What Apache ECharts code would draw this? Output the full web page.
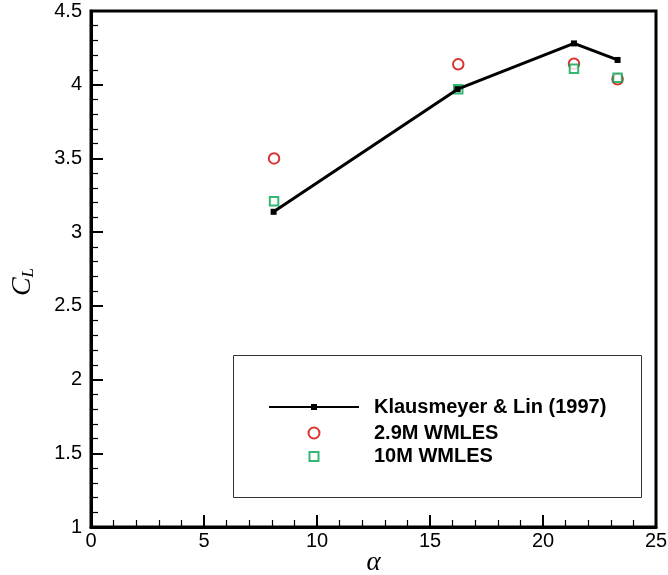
<!DOCTYPE html>
<html>
<head>
<meta charset="utf-8">
<script src="https://cdn.jsdelivr.net/npm/echarts@6/dist/echarts.min.js"></script>
<style>html,body{margin:0;padding:0;background:#fff}#c{width:668px;height:575px}</style>
</head>
<body>
<div id="c"></div>
<script>
const expAlpha = [8.08, 16.22, 21.37, 23.3];
const expCL = [3.138, 3.97, 4.28, 4.168];
const les29Alpha = [8.1, 16.25, 21.37, 23.3];
const les29CL = [3.50, 4.138, 4.143, 4.037];
const les10Alpha = [8.1, 16.25, 21.37, 23.3];
const les10CL = [3.209, 3.97, 4.109, 4.048];
const seriesNames = ['Klausmeyer & Lin (1997)', '2.9M WMLES', '10M WMLES'];

const zip = (a, b) => a.map((v, i) => [v, b[i]]);
const chart = echarts.init(document.getElementById('c'), null, {renderer: 'canvas'});
const labelFont = {fontFamily: 'Liberation Sans', fontSize: 20, color: '#000'};
// legend: icon centre x = 313, text start x = 373
function mkLegend(name, top, w, h, bw) {
  const left = 313 - w / 2;
  const pad = 373 - (left + w + 5);
  const lg = {
    orient: 'vertical', left: left, top: top, padding: 0,
    itemWidth: w, itemHeight: h,
    textStyle: {fontFamily: 'Liberation Sans', fontWeight: 'bold', fontSize: 20, color: '#000', padding: [0, 0, 0, pad]},
    data: [name]
  };
  if (bw) lg.itemStyle = {borderWidth: bw};
  return lg;
}
chart.setOption({
  animation: false,
  backgroundColor: '#fff',
  grid: {left: 91, right: 12, top: 11, bottom: 48, containLabel: false, outerBoundsMode: 'none',
         show: true, borderColor: '#000', borderWidth: 3, backgroundColor: 'transparent'},
  graphic: [{
    type: 'rect', z: 0, silent: true,
    shape: {x: 233.5, y: 355.5, width: 408, height: 142},
    style: {fill: 'transparent', stroke: '#333', lineWidth: 1}
  }],
  xAxis: {
    type: 'value', min: 0, max: 25, interval: 5,
    name: 'α', nameLocation: 'middle', nameGap: 22, nameMoveOverlap: false,
    nameTextStyle: {fontFamily: 'Liberation Serif', fontStyle: 'italic', fontSize: 27, color: '#000'},
    axisLine: {show: true, lineStyle: {color: '#000', width: 3}},
    axisTick: {show: true, inside: true, length: 12, lineStyle: {color: '#000', width: 2}},
    minorTick: {show: true, splitNumber: 5, length: 7, lineStyle: {color: '#000', width: 1.2}},
    axisLabel: Object.assign({margin: 4}, labelFont),
    splitLine: {show: false}
  },
  yAxis: {
    type: 'value', min: 1, max: 4.5, interval: 0.5,
    name: '{i|C}{s|L}', nameLocation: 'middle', nameGap: 54, nameRotate: 90,
    nameTextStyle: {
      fontFamily: 'Liberation Serif', fontSize: 28, color: '#000', padding: [0, 26, 0, 0],
      rich: {
        i: {fontFamily: 'Liberation Serif', fontStyle: 'italic', fontSize: 28, color: '#000'},
        s: {fontFamily: 'Liberation Serif', fontStyle: 'italic', fontSize: 17, color: '#000', padding: [12, 0, 0, 0]}
      }
    },
    axisLine: {show: true, lineStyle: {color: '#000', width: 3}},
    axisTick: {show: true, inside: true, length: 12, lineStyle: {color: '#000', width: 2}},
    minorTick: {show: true, splitNumber: 5, length: 7, lineStyle: {color: '#000', width: 1.2}},
    axisLabel: Object.assign({margin: 9, formatter: v => String(v)}, labelFont),
    splitLine: {show: false}
  },
  legend: [
    mkLegend(seriesNames[0], 397, 90, 7.5),
    mkLegend(seriesNames[1], 423, 11, 11, 3.5),
    mkLegend(seriesNames[2], 446.5, 9, 9, 3)
  ],
  series: [
    {
      name: seriesNames[0], type: 'line', data: zip(expAlpha, expCL),
      symbol: 'rect', symbolSize: 6,
      lineStyle: {color: '#000', width: 3},
      itemStyle: {color: '#000'}
    },
    {
      name: seriesNames[1], type: 'scatter', data: zip(les29Alpha, les29CL),
      symbol: 'emptyCircle', symbolSize: 10.5,
      itemStyle: {color: '#d00000', borderColor: '#d00000', borderWidth: 3.5}
    },
    {
      name: seriesNames[2], type: 'scatter', data: zip(les10Alpha, les10CL),
      symbol: 'emptyRect', symbolSize: 8.5,
      itemStyle: {color: '#00a651', borderColor: '#00a651', borderWidth: 3}
    }
  ]
});
</script>
</body>
</html>
